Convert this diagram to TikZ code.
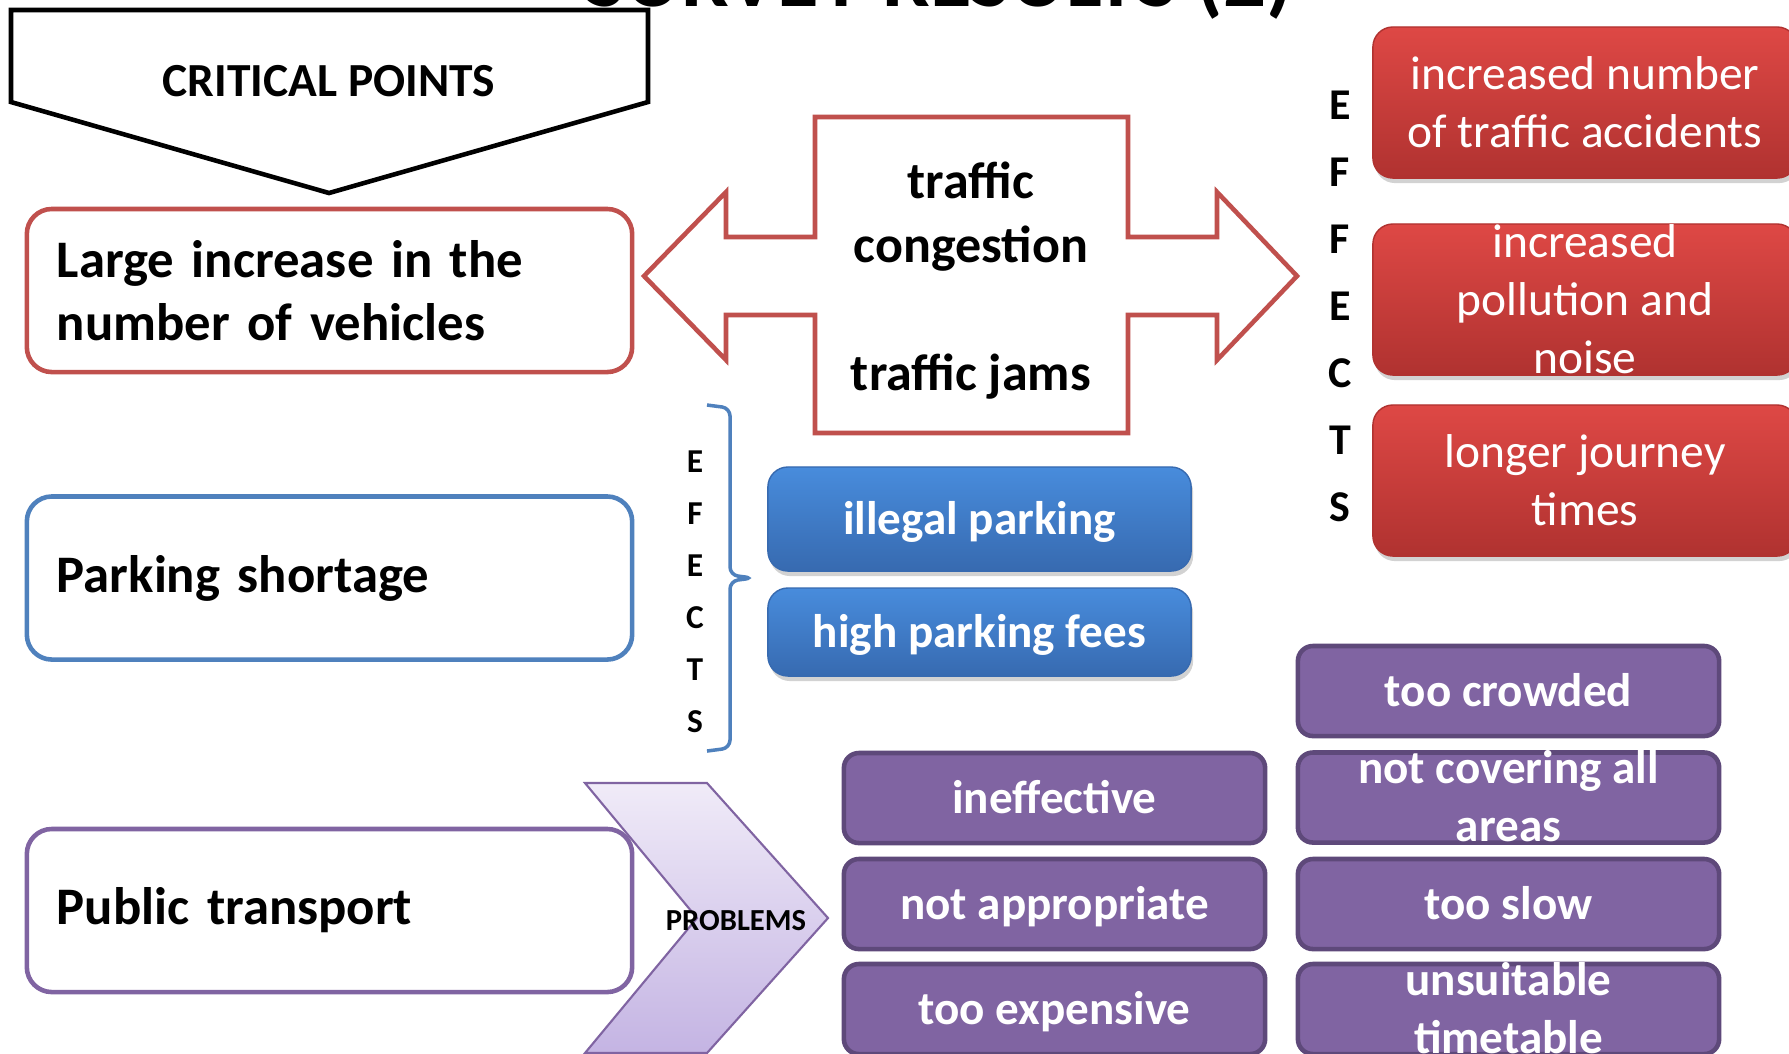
\documentclass[tikz,border=0pt]{standalone}
\usepackage{fontspec}
\setmainfont{Carlito}
\usepackage{tikz}
\usetikzlibrary{shadows,positioning}

\definecolor{accred}{RGB}{192,80,77}
\definecolor{accblue}{RGB}{79,129,189}
\definecolor{accpurple}{RGB}{128,100,162}
\definecolor{darkpurple}{RGB}{94,73,122}
\definecolor{redtop}{RGB}{222,72,69}
\definecolor{redbot}{RGB}{176,50,48}
\definecolor{bluetop}{RGB}{72,140,220}
\definecolor{bluebot}{RGB}{55,106,176}
\definecolor{lilactop}{RGB}{240,235,248}
\definecolor{lilacbot}{RGB}{196,180,227}

% lines of a box, centred on the node and taking no height
\newcommand{\boxlines}[1]{\raisebox{-.35em}[0pt][0pt]{\begin{tabular}{@{}c@{}}#1\end{tabular}}}

\tikzset{
  cause/.style={
    rectangle,
    rounded corners=0.25cm,
    draw, line width=1.3pt,
    fill=white,
    minimum width=6.05cm,
    minimum height=1.63cm,
    text width=5.45cm,
    inner xsep=0.3cm,
    align=left,
    font=\bfseries\fontsize{15}{17.8}\selectfont},
  effect/.style={
    rectangle,
    rounded corners=0.2cm,
    inner sep=0pt,
    text=white,
    drop shadow={shadow xshift=0.02cm, shadow yshift=-0.05cm, opacity=0.35}},
  redbox/.style={
    effect,
    top color=redtop, bottom color=redbot, draw=redbot,
    minimum width=4.24cm,
    minimum height=1.51cm,
    font=\fontsize{13.5}{16.5}\selectfont},
  bluebox/.style={
    effect,
    top color=bluetop, bottom color=bluebot, draw=bluebot,
    minimum width=4.23cm,
    font=\bfseries\fontsize{13.4}{16.5}\selectfont},
  problem/.style={
    rectangle,
    rounded corners=0.15cm,
    fill=accpurple,
    draw=darkpurple, line width=1.3pt,
    minimum width=4.21cm,
    minimum height=0.9cm,
    inner sep=0pt,
    text=white,
    font=\bfseries\fontsize{13.4}{16.5}\selectfont},
}

\begin{document}
\begin{tikzpicture}[
    x=0.01cm, y=-0.01cm,
    headline/.style={font=\bfseries\fontsize{24.1}{28}\selectfont, anchor=base},
    critical/.style={font=\bfseries\fontsize{13.5}{16}\selectfont},
    jam arrow/.style={draw=accred, line width=1.3pt, fill=white, line join=miter},
    jam text/.style={inner sep=0pt, font=\bfseries\fontsize{14.8}{18.2}\selectfont},
    letter/.style={inner sep=0pt, font=\bfseries\fontsize{12.5}{14}\selectfont},
    small letter/.style={inner sep=0pt, font=\bfseries\fontsize{9.5}{11}\selectfont},
    bracket/.style={draw=accblue, line width=1pt, rounded corners=0.08cm},
    chevron/.style={draw=accpurple, line width=0.6pt, top color=lilactop, bottom color=lilacbot},
    problems/.style={inner sep=0pt, font=\bfseries\fontsize{8.7}{10}\selectfont}
    ]

    \useasboundingbox (0,0) rectangle (1789,1053);
    \clip (0,0) rectangle (1789,1053);
    \fill[white] (0,0) rectangle (1789,1053);

    % headline, cut off at the top
    \node[headline] (survey) at (939,6) {SURVEY RESULTS (2)};

    % critical points
    \draw[line width=1.3pt, fill=white] (11,10) -- (648,10) -- (648,102) -- (329,193) -- (11,102) -- cycle;
    \node[critical] (crit) at (329,81) {CRITICAL POINTS};

    % causes
    \node[cause, draw=accred] (vehicles) at (329.5,290.5) {Large increase in the\\number of vehicles};
    \node[cause, draw=accblue] (parking) at (329.5,578) {Parking shortage};
    \node[cause, draw=accpurple] (public) at (329.5,910.5) {Public transport};

    % traffic arrow
    \draw[jam arrow] (815,117) -- (1128,117) -- (1128,237) -- (1217,237) -- (1217,192) -- (1297,276)
        -- (1217,360) -- (1217,315) -- (1128,315) -- (1128,433) -- (815,433) -- (815,315)
        -- (726,315) -- (726,360) -- (644,276) -- (726,192) -- (726,237) -- (815,237) -- cycle;
    \node[jam text] (congestion) at (971,212) {\boxlines{traffic\\congestion}};
    \node[jam text] (jams) at (971,372) {\boxlines{traffic jams}};

    % effects of the traffic
    \foreach \l [count=\i] in {E,F,F,E,C,T,S}
        \node[letter] (eff\i) at (1340,38+67*\i) {\l};
    \node[redbox] (accidents) at (1585,102.5) {\boxlines{increased number\\of traffic accidents}};
    \node[redbox] (pollution) at (1585,299.5) {\boxlines{increased\\pollution and\\noise}};
    \node[redbox] (journey) at (1585,480.5) {\boxlines{longer journey\\times}};

    % effects of the parking shortage
    \draw[bracket] (707,405) -- (730,408) -- (730,575) -- (753,578) -- (730,581) -- (730,748) -- (707,751);
    \foreach \l [count=\i] in {E,F,E,C,T,S}
        \node[small letter] (pe\i) at (695,410+52*\i) {\l};
    \node[bluebox, minimum height=1.04cm] (illegal) at (979.5,519) {\boxlines{illegal parking}};
    \node[bluebox, minimum height=0.88cm] (fees) at (979.5,632) {\boxlines{high parking fees}};

    % problems of public transport
    \draw[chevron] (585,783) -- (707,783) -- (828,918) -- (707,1053) -- (585,1053) -- (697,918) -- cycle;
    \node[problems] (prob) at (736,921) {PROBLEMS};

    \node[problem] (ineff) at (1054.5,798) {\boxlines{ineffective}};
    \node[problem] (approp) at (1054.5,904) {\boxlines{not appropriate}};
    \node[problem] (expens) at (1054.5,1009) {\boxlines{too expensive}};
    \node[problem] (crowd) at (1508.5,691) {\boxlines{too crowded}};
    \node[problem] (cover) at (1508.5,797.5) {\boxlines{not covering all\\areas}};
    \node[problem] (slow) at (1508.5,904) {\boxlines{too slow}};
    \node[problem] (timet) at (1508.5,1009) {\boxlines{unsuitable\\timetable}};

\end{tikzpicture}
\end{document}
